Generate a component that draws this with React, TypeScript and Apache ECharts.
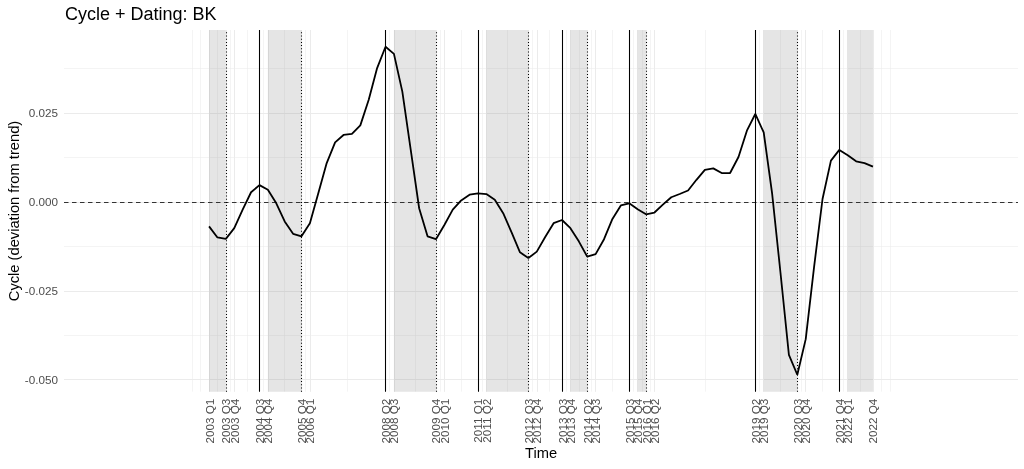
import React, { useEffect, useRef } from "react";
import * as echarts from "echarts";

// ---- data ----
const startYear = 2003;
const endYear = 2022;
const quarters: string[] = [];
for (let y = startYear; y <= endYear; y++) {
  for (let q = 1; q <= 4; q++) quarters.push(`${y} Q${q}`);
}

const cycle: number[] = [
  -0.0069, -0.0100, -0.0104, -0.0074,
  -0.0022, 0.0027, 0.0047, 0.0034,
  -0.0004, -0.0055, -0.0090, -0.0097,
  -0.0060, 0.0024, 0.0109, 0.0167,
  0.0188, 0.0191, 0.0215, 0.0287,
  0.0376, 0.0436, 0.0416, 0.0310,
  0.0146, -0.0018, -0.0097, -0.0105,
  -0.0065, -0.0022, 0.0004, 0.0020,
  0.0024, 0.0022, 0.0006, -0.0032,
  -0.0086, -0.0142, -0.0158, -0.0140,
  -0.0099, -0.0060, -0.0051, -0.0074,
  -0.0111, -0.0154, -0.0147, -0.0105,
  -0.0048, -0.0010, -0.0004, -0.0021,
  -0.0035, -0.0030, -0.0008, 0.0013,
  0.0022, 0.0032, 0.0062, 0.0090,
  0.0094, 0.0081, 0.0081, 0.0126,
  0.0200, 0.0247, 0.0195, 0.0024,
  -0.0200, -0.0430, -0.0486, -0.0386,
  -0.0182, 0.0008, 0.0116, 0.0146,
  0.0131, 0.0114, 0.0109, 0.0099,
];

const peaks = ["2004 Q3", "2008 Q2", "2011 Q1", "2013 Q3", "2015 Q3", "2019 Q2", "2021 Q4"];
const troughs = ["2003 Q3", "2005 Q4", "2009 Q4", "2012 Q3", "2014 Q2", "2016 Q1", "2020 Q3"];
const recessions: [string, string][] = [
  ["2003 Q1", "2003 Q3"],
  ["2004 Q4", "2005 Q4"],
  ["2008 Q3", "2009 Q4"],
  ["2011 Q2", "2012 Q3"],
  ["2013 Q4", "2014 Q2"],
  ["2015 Q4", "2016 Q1"],
  ["2019 Q3", "2020 Q3"],
  ["2022 Q1", "2022 Q4"],
];
const tickLabels = [
  "2003 Q1", "2003 Q3", "2003 Q4", "2004 Q3", "2004 Q4", "2005 Q4", "2006 Q1",
  "2008 Q2", "2008 Q3", "2009 Q4", "2010 Q1", "2011 Q1", "2011 Q2", "2012 Q3",
  "2012 Q4", "2013 Q3", "2013 Q4", "2014 Q2", "2014 Q3", "2015 Q3", "2015 Q4",
  "2016 Q1", "2016 Q2", "2019 Q2", "2019 Q3", "2020 Q3", "2020 Q4", "2021 Q4",
  "2022 Q1", "2022 Q4",
];
const yTicks = [-0.05, -0.025, 0, 0.025];
const yMinorTicks = [-0.0375, -0.0125, 0.0125, 0.0375];

const titleText = "Cycle + Dating: BK";
const xTitle = "Time";
const yTitle = "Cycle (deviation from trend)";

// ---- helpers ----
const idx = (q: string) => quarters.indexOf(q);
const tickIdx = tickLabels.map(idx);

// ggplot-style minor breaks
function minorBreaks(b: number[]): number[] {
  const bd = b[1] - b[0];
  const ext = [b[0] - bd, ...b, b[b.length - 1] + bd];
  const out: number[] = [];
  for (let i = 0; i < ext.length - 1; i++) {
    out.push(ext[i], (ext[i] + ext[i + 1]) / 2);
  }
  out.push(ext[ext.length - 1]);
  return out;
}

const X_MIN = -17.26;
const X_MAX = 96.26;
const Y_MIN = -0.05337;
const Y_MAX = 0.04831;

const FONT = "'Liberation Sans', Arial, Helvetica, sans-serif";
const GRID_COLOR = "#EBEBEB";

export default function App() {
  const ref = useRef<HTMLDivElement>(null);
  useEffect(() => {
    if (!ref.current) return;
    const chart = echarts.init(ref.current, undefined, { renderer: "svg" });
    const xMinor = minorBreaks(tickIdx).filter((v) => v > X_MIN && v < X_MAX);

    const gridLines: any[] = [];
    xMinor.forEach((v) =>
      gridLines.push({ xAxis: v, lineStyle: { color: GRID_COLOR, width: 0.55, type: "solid" } })
    );
    yMinorTicks.forEach((v) =>
      gridLines.push({ yAxis: v, lineStyle: { color: GRID_COLOR, width: 0.55, type: "solid" } })
    );
    tickIdx.forEach((v) =>
      gridLines.push({ xAxis: v, lineStyle: { color: GRID_COLOR, width: 1.07, type: "solid" } })
    );
    yTicks.forEach((v) =>
      gridLines.push({ yAxis: v, lineStyle: { color: GRID_COLOR, width: 1.07, type: "solid" } })
    );

    const datingLines: any[] = [];
    datingLines.push({ yAxis: 0, lineStyle: { color: "#333333", width: 1.07, type: [4.5, 3.5] } });
    peaks.forEach((p) =>
      datingLines.push({ xAxis: idx(p), lineStyle: { color: "#000000", width: 1.07, type: "solid" } })
    );
    troughs.forEach((t) =>
      datingLines.push({ xAxis: idx(t), lineStyle: { color: "#000000", width: 1.07, type: [1, 2.2] } })
    );

    const seriesData = cycle.map((v, i) => [i, v]);

    chart.setOption({
      animation: false,
      textStyle: { fontFamily: FONT },
      grid: { left: 64, right: 6, top: 30, bottom: 77.3, containLabel: false },
      xAxis: {
        type: "value",
        min: X_MIN,
        max: X_MAX,
        axisLine: { show: false },
        axisTick: { show: false },
        splitLine: { show: false },
        axisLabel: {
          customValues: tickIdx,
          formatter: (v: number) => quarters[Math.round(v)] ?? "",
          rotate: 90,
          margin: 7,
          fontSize: 11.7,
          color: "#4D4D4D",
          fontFamily: FONT,
        },
      },
      yAxis: {
        type: "value",
        min: Y_MIN,
        max: Y_MAX,
        axisLine: { show: false },
        axisTick: { show: false },
        splitLine: { show: false },
        axisLabel: {
          customValues: yTicks,
          formatter: (v: number) => v.toFixed(3),
          margin: 6,
          fontSize: 11.7,
          color: "#4D4D4D",
          fontFamily: FONT,
        },
      },
      series: [
        {
          type: "line",
          data: seriesData,
          symbol: "none",
          silent: true,
          lineStyle: { opacity: 0 },
          z: 0,
          markLine: {
            z: 0,
            silent: true,
            precision: 8,
            symbol: ["none", "none"],
            label: { show: false },
            emphasis: { disabled: true },
            data: gridLines,
          },
          markArea: {
            z: 1,
            silent: true,
            precision: 8,
            itemStyle: { color: "rgba(127,127,127,0.2)" },
            emphasis: { disabled: true },
            data: recessions.map(([s, e]) => [{ xAxis: idx(s) }, { xAxis: idx(e) }]),
          },
        },
        {
          type: "line",
          data: seriesData,
          symbol: "none",
          silent: true,
          lineStyle: { opacity: 0 },
          z: 1,
          markLine: {
            z: 2,
            silent: true,
            precision: 8,
            symbol: ["none", "none"],
            label: { show: false },
            emphasis: { disabled: true },
            data: datingLines,
          },
        },
        {
          type: "line",
          data: seriesData,
          symbol: "none",
          silent: true,
          z: 10,
          lineStyle: { color: "#000000", width: 1.8 },
        },
      ],
      graphic: [
        {
          type: "text",
          x: 65,
          y: 14,
          style: {
            text: titleText,
            fontSize: 18,
            fontFamily: FONT,
            fill: "#000000",
            align: "left",
            verticalAlign: "middle",
          },
        },
        {
          type: "text",
          x: 541,
          y: 453,
          style: {
            text: xTitle,
            fontSize: 14.7,
            fontFamily: FONT,
            fill: "#000000",
            align: "center",
            verticalAlign: "middle",
          },
        },
        {
          type: "text",
          x: 14,
          y: 211,
          rotation: Math.PI / 2,
          style: {
            text: yTitle,
            fontSize: 14.7,
            fontFamily: FONT,
            fill: "#000000",
            align: "center",
            verticalAlign: "middle",
          },
        },
      ],
    });
    return () => chart.dispose();
  }, []);
  return (
    <div
      ref={ref}
      style={{ position: "fixed", left: 0, top: 0, width: 1024, height: 469 }}
    />
  );
}
